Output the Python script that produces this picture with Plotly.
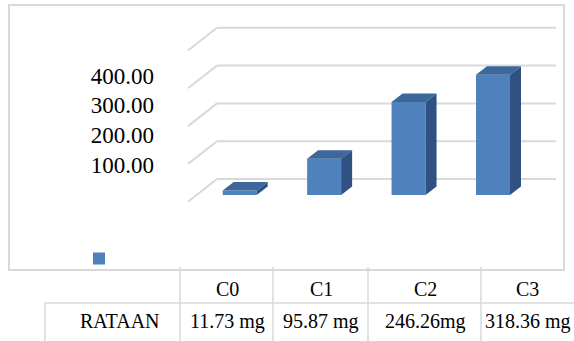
import plotly.graph_objects as go

# ---------------- data ----------------
categories = ["C0", "C1", "C2", "C3"]
values = [11.73, 95.87, 246.26, 318.36]
value_labels = ["11.73 mg", "95.87 mg", "246.26mg", "318.36 mg"]
row_label = "RATAAN"
grid_values = [0, 100, 200, 300, 400]
tick_values = [100, 200, 300, 400]
tick_labels = ["100.00", "200.00", "300.00", "400.00"]

# ---------------- geometry (pixel helpers) ----------------
W, H = 574, 341
PX_CAT = 84.43      # pixels per category step
PX_UNIT = 0.378     # pixels per value unit
X0_PX = 239.7       # centre of first bar
Y0_PX = 195.0       # bar base line

xr = [-X0_PX / PX_CAT, (W - X0_PX) / PX_CAT]
yr = [-(H - Y0_PX) / PX_UNIT, Y0_PX / PX_UNIT]


def ddx(px):
    return px / PX_CAT


def ddy(px):
    return px / PX_UNIT


def xpx(px):
    return (px - X0_PX) / PX_CAT


bar_w = ddx(34)
depth_x, depth_y = ddx(11), ddy(8.5)
back_dy = ddy(16)
floor_dy = ddy(22.7)

FRONT = "#4f81bd"
TOP = "#3c679a"
SIDE = "#2f5282"
GRID = "#d9d9d9"
FONT = "Liberation Serif"

xs = list(range(len(categories)))

fig = go.Figure()

# front faces
fig.add_trace(go.Bar(
    x=xs, y=values, width=bar_w, marker=dict(color=FRONT, line=dict(width=0)),
    name=" ", showlegend=True, hoverinfo="skip"))

# top faces & side faces
tx, ty, sx, sy = [], [], [], []
for x, v in zip(xs, values):
    l, r = x - bar_w / 2, x + bar_w / 2
    tx += [l, r, r + depth_x, l + depth_x, l, None]
    ty += [v, v, v + depth_y, v + depth_y, v, None]
    sx += [r, r, r + depth_x, r + depth_x, r, None]
    sy += [0, v, v + depth_y, depth_y, 0, None]
fig.add_trace(go.Scatter(x=tx, y=ty, fill="toself", fillcolor=TOP, mode="lines",
                         line=dict(width=0, color=TOP), showlegend=False, hoverinfo="skip"))
fig.add_trace(go.Scatter(x=sx, y=sy, fill="toself", fillcolor=SIDE, mode="lines",
                         line=dict(width=0, color=SIDE), showlegend=False, hoverinfo="skip"))

# invisible trace carrying the tick-label axis
fig.add_trace(go.Scatter(x=[xr[0]] * len(tick_values), y=tick_values, yaxis="y2",
                         mode="markers", marker=dict(opacity=0), showlegend=False,
                         hoverinfo="skip"))

shapes = []
# perspective gridlines (back wall + side diagonal)
for v in grid_values:
    yb = v + back_dy
    shapes.append(dict(type="line", xref="x", yref="y", x0=xpx(217), x1=xpx(556),
                       y0=yb, y1=yb, line=dict(color=GRID, width=2), layer="below"))
    shapes.append(dict(type="line", xref="x", yref="y", x0=xpx(188), x1=xpx(217),
                       y0=yb - floor_dy, y1=yb, line=dict(color=GRID, width=2), layer="below"))


def px_x(p):
    return p / W


def px_y(p):
    return 1 - p / H


# chart border
shapes.append(dict(type="rect", xref="paper", yref="paper", x0=px_x(9), x1=px_x(564),
                   y0=px_y(270), y1=px_y(5), line=dict(color=GRID, width=2), layer="below"))
# table lines
for p in [180, 273, 368, 481]:
    shapes.append(dict(type="line", xref="paper", yref="paper", x0=px_x(p), x1=px_x(p),
                       y0=px_y(267), y1=px_y(341), line=dict(color=GRID, width=1.5)))
shapes.append(dict(type="line", xref="paper", yref="paper", x0=px_x(45), x1=px_x(574),
                   y0=px_y(303), y1=px_y(303), line=dict(color=GRID, width=1.5)))
shapes.append(dict(type="line", xref="paper", yref="paper", x0=px_x(45), x1=px_x(45),
                   y0=px_y(303), y1=px_y(341), line=dict(color=GRID, width=1.5)))

annotations = []
col_centers = [227, 321, 425, 527.5]
for c, cat, lab in zip(col_centers, categories, value_labels):
    annotations.append(dict(x=px_x(c), y=px_y(289), xref="paper", yref="paper", text=cat,
                            showarrow=False, xanchor="center", yanchor="middle",
                            font=dict(family=FONT, size=20, color="black")))
    annotations.append(dict(x=px_x(c), y=px_y(321), xref="paper", yref="paper", text=lab,
                            showarrow=False, xanchor="center", yanchor="middle",
                            font=dict(family=FONT, size=20, color="black")))
annotations.append(dict(x=px_x(162), y=px_y(321), xref="paper", yref="paper", text=row_label,
                        showarrow=False, xanchor="right", yanchor="middle",
                        font=dict(family=FONT, size=20, color="black")))

# tick-label axis scale
t_scale = (164.5 - 75.5) / (tick_values[-1] - tick_values[0])
y2max = tick_values[-1] + 75.5 / t_scale
y2min = y2max - H / t_scale

fig.update_layout(
    width=W, height=H, autosize=False,
    margin=dict(l=0, r=0, t=0, b=0),
    paper_bgcolor="white", plot_bgcolor="rgba(0,0,0,0)",
    xaxis=dict(range=xr, visible=False, fixedrange=True),
    yaxis=dict(range=yr, visible=False, fixedrange=True),
    yaxis2=dict(overlaying="y", anchor="free", position=px_x(154), side="left",
                range=[y2min, y2max], tickvals=tick_values, ticktext=tick_labels,
                showgrid=False, zeroline=False, showline=False, ticks="",
                tickfont=dict(family=FONT, size=23, color="black")),
    showlegend=True,
    legend=dict(x=px_x(79), y=px_y(244), xanchor="left", yanchor="top",
                bgcolor="rgba(0,0,0,0)", borderwidth=0, font=dict(size=10)),
    shapes=shapes, annotations=annotations,
)

fig.write_html("out.html", config={"displayModeBar": False},
               post_script="document.body.style.margin='0px';")
